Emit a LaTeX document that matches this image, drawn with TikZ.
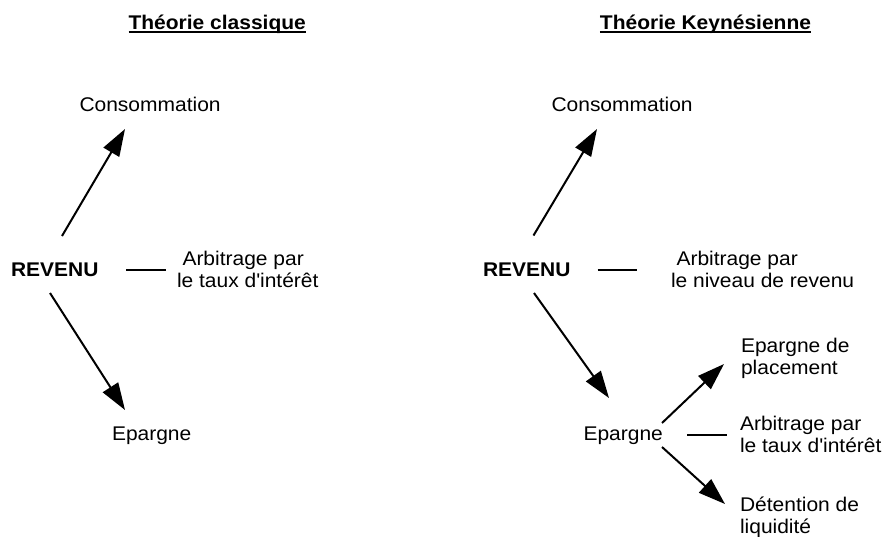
\documentclass[tikz,border=0pt]{standalone}
\usepackage{fontspec}
\setmainfont{Liberation Sans}[FakeStretch=1.06]
\usetikzlibrary{arrows.meta}
\begin{document}
\begin{tikzpicture}[x=1pt,y=-1pt,
  txt/.style={inner sep=0pt, outer sep=0pt, anchor=base west, font=\fontsize{19.8}{22}\selectfont, text=black},
  ttl/.style={txt, anchor=base, font=\fontsize{19.8}{22}\selectfont\bfseries},
  arr/.style={line width=2pt, -{Triangle[length=27pt,width=18pt]}},
  link/.style={line width=2pt},
  uline/.style={line width=1.4pt}]
\useasboundingbox (0,0) rectangle (885,536);

% ---- Left: Theorie classique
\node[ttl] (t1) at (217.2,29.3) {Théorie classique};
\draw[uline] ([shift={(0,2.6)}]t1.base west) -- ([shift={(0,2.6)}]t1.base east);
\node[txt] (cons1) at (79.5,111) {Consommation};
\node[txt, font=\fontsize{19.8}{22}\selectfont\bfseries] (rev1) at (11,276) {REVENU};
\node[txt] (arb1) at (177,265.5) {\begin{tabular}[t]{@{}l@{}}\hspace*{0.278em}Arbitrage par\\le taux d\textquotesingle intérêt\end{tabular}};
\node[txt] (epa1) at (112,440) {Epargne};

\draw[arr] ([shift={(51,-40)}]rev1.base west) -- ([shift={(45.5,18)}]cons1.base west);
\draw[link] ([shift={(115,-6)}]rev1.base west) -- ([shift={(-11,4.5)}]arb1.base west);
\draw[arr] ([shift={(39,17)}]rev1.base west) -- ([shift={(13,-30)}]epa1.base west);

% ---- Right: Theorie keynesienne
\node[ttl] (t2) at (705.5,29.3) {Théorie Keynésienne};
\draw[uline] ([shift={(0,2.6)}]t2.base west) -- ([shift={(0,2.6)}]t2.base east);
\node[txt] (cons2) at (551.5,111) {Consommation};
\node[txt, font=\fontsize{19.8}{22}\selectfont\bfseries] (rev2) at (483,276) {REVENU};
\node[txt] (arb2) at (671,265.5) {\begin{tabular}[t]{@{}l@{}}\hspace*{0.278em}Arbitrage par\\le niveau de revenu\end{tabular}};
\node[txt] (epa2) at (583.5,440) {Epargne};
\node[txt] (plc) at (741,352.5) {\begin{tabular}[t]{@{}l@{}}Epargne de\\placement\end{tabular}};
\node[txt] (arb3) at (740,430) {\begin{tabular}[t]{@{}l@{}}Arbitrage par\\le taux d\textquotesingle intérêt\end{tabular}};
\node[txt] (det) at (740,511.5) {\begin{tabular}[t]{@{}l@{}}Détention de\\liquidité\end{tabular}};

\draw[arr] ([shift={(50.5,-40.5)}]rev2.base west) -- ([shift={(45.5,18)}]cons2.base west);
\draw[link] ([shift={(114.5,-6)}]rev2.base west) -- ([shift={(-34,4.5)}]arb2.base west);
\draw[arr] ([shift={(51,17)}]rev2.base west) -- ([shift={(25.5,-42)}]epa2.base west);
\draw[arr] ([shift={(78.5,-17)}]epa2.base west) -- ([shift={(-17,11.5)}]plc.base west);
\draw[link] ([shift={(103.5,-5.5)}]epa2.base west) -- ([shift={(-13.5,4.5)}]arb3.base west);
\draw[arr] ([shift={(78.5,7)}]epa2.base west) -- ([shift={(-15,-7.5)}]det.base west);
\end{tikzpicture}
\end{document}
